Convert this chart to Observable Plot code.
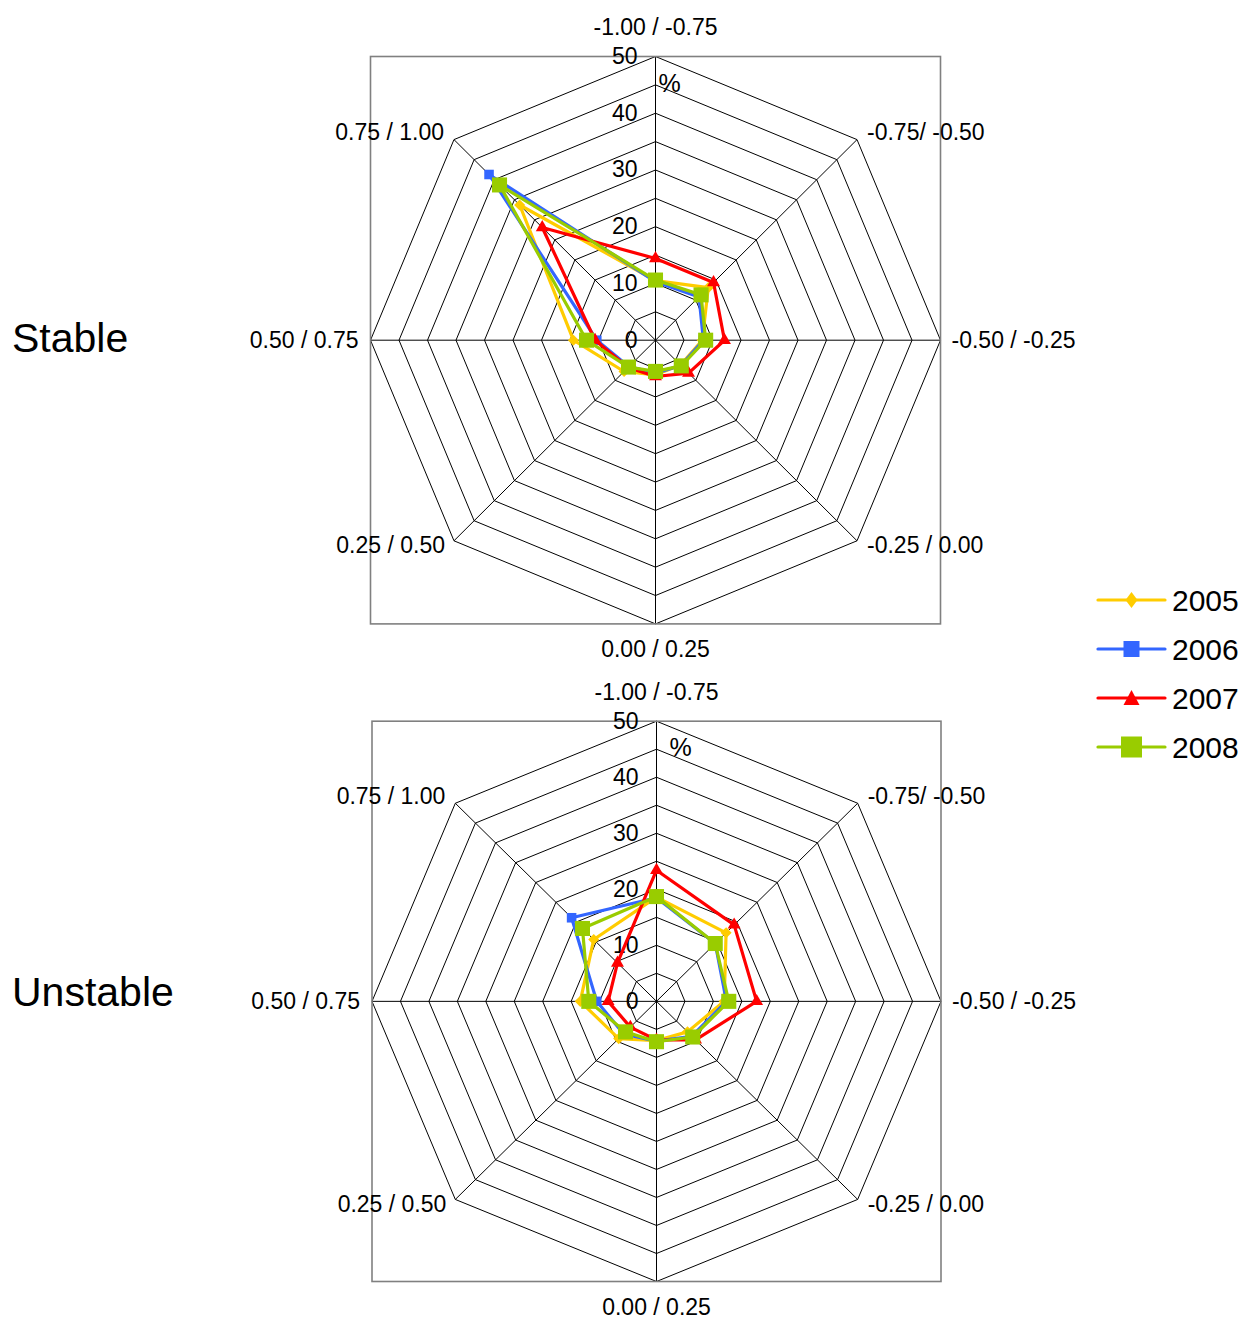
<!DOCTYPE html>
<html><head><meta charset="utf-8">
<script src="https://cdn.jsdelivr.net/npm/d3@7"></script>
<script src="https://cdn.jsdelivr.net/npm/@observablehq/plot@0.6"></script>
<style>
body{margin:0;background:#fff;font-family:"Liberation Sans",Arial,Helvetica,sans-serif;}
#wrap{position:relative;width:1241px;height:1320px;overflow:hidden;background:#fff;}
.panel{position:absolute;left:0;}
.side{position:absolute;left:12px;font-size:41px;line-height:41px;color:#000;white-space:nowrap;}
#legend{position:absolute;left:1090px;top:575px;}
</style></head><body><div id="wrap"></div>
<script>
// ---- data ----
const axisLabels = ["-1.00 / -0.75","-0.75/ -0.50","-0.50 / -0.25","-0.25 / 0.00","0.00 / 0.25","0.25 / 0.50","0.50 / 0.75","0.75 / 1.00"];
const years = ["2005","2006","2007","2008"];
const tickValues = [0,10,20,30,40,50];
const ringValues = [5,10,15,20,25,30,35,40,45,50];
const panelNames = ["Stable","Unstable"];

const stable2005 = [10.5, 13.1, 8.2, 6.2, 6.1, 7.8, 14.4, 33.7];
const stable2006 = [10.3, 10.8, 8.4, 6.3, 5.8, 6.6, 10.3, 41.3];
const stable2007 = [14.4, 14.4, 12.1, 8.2, 6.4, 6.8, 10.6, 28.1];
const stable2008 = [10.6, 11.3, 8.8, 6.4, 5.5, 6.7, 12.1, 38.7];

const unstable2005 = [18.6, 17.3, 11.9, 7.7, 7.0, 9.4, 13.4, 15.6];
const unstable2006 = [18.5, 14.6, 12.3, 8.8, 7.1, 8.2, 10.5, 21.1];
const unstable2007 = [23.4, 19.3, 17.6, 9.7, 6.9, 6.5, 8.5, 9.7];
const unstable2008 = [18.7, 14.6, 12.7, 9.0, 7.2, 7.7, 11.9, 18.4];

// ---- styles ----
const colors = ["#FFCC00","#3366FF","#FF0000","#99CC00"];
const symbols = ["diamond2","square","triangle","square"];
const symR = [5.0, 5.4, 4.8, 8.5];
const FONT = "'Liberation Sans', Arial, Helvetica, sans-serif";
const FS = 23;
const labelPlace = [
  {anchor:"middle", dx:0, dy:-29},
  {anchor:"start", dx:10, dy:-7},
  {anchor:"start", dx:11, dy:0},
  {anchor:"start", dx:10, dy:5},
  {anchor:"middle", dx:0, dy:26},
  {anchor:"end", dx:-9, dy:5},
  {anchor:"end", dx:-12, dy:0},
  {anchor:"end", dx:-10, dy:-7}
];
const panels = [
  {series:[stable2005,stable2006,stable2007,stable2008], top:0, mL:370, mR:301, mT:56, mB:36.6, pctDx:3, sideTop:317.5},
  {series:[unstable2005,unstable2006,unstable2007,unstable2008], top:660, mL:371.5, mR:300.5, mT:60.7, mB:39, pctDx:13, sideTop:972}
];

const N = axisLabels.length;
const ang = i => i * 2 * Math.PI / N;
const px = (v,i) => v * Math.sin(ang(i));
const py = (v,i) => v * Math.cos(ang(i));
const rMax = d3.max(tickValues);

const wrap = document.getElementById("wrap");

panels.forEach((p, pi) => {
  const rings = [];
  ringValues.forEach(r => { for (let i = 0; i <= N; i++) rings.push({r, x: px(r, i % N), y: py(r, i % N)}); });
  const spokes = axisLabels.map((l, i) => ({x: px(rMax, i), y: py(rMax, i)}));
  const marks = [
    Plot.line(rings, {x:"x", y:"y", z:"r", stroke:"#000", strokeWidth:1}),
    Plot.link(spokes, {x1: () => 0, y1: () => 0, x2:"x", y2:"y", stroke:"#000", strokeWidth:1}),
    Plot.frame({stroke:"#808080", strokeWidth:1.6})
  ];
  axisLabels.forEach((lab, i) => {
    const pl = labelPlace[i];
    marks.push(Plot.text([lab], {x: () => px(rMax, i), y: () => py(rMax, i), text: d => d,
      textAnchor: pl.anchor, dx: pl.dx, dy: pl.dy, fontSize: FS, fill:"#000"}));
  });
  marks.push(Plot.text(tickValues, {x: () => 0, y: d => d, text: d => String(d), textAnchor:"end", dx:-18, fontSize:FS, fill:"#000"}));
  marks.push(Plot.text(["%"], {x: () => 0, y: () => rMax, text: d => d, textAnchor:"start", dx:p.pctDx, dy:27, fontSize:25, fill:"#000"}));
  p.series.forEach((vals, k) => {
    const pts = [];
    for (let i = 0; i <= N; i++) { const j = i % N; pts.push({year: years[k], v: vals[j], x: px(vals[j], j), y: py(vals[j], j), closing: i === N}); }
    marks.push(Plot.line(pts, {x:"x", y:"y", stroke: colors[k], strokeWidth:3.2, strokeLinejoin:"round"}));
    marks.push(Plot.dot(pts.filter(d => !d.closing), {x:"x", y:"y", symbol: () => symbols[k], r: symR[k], fill: colors[k], stroke:"none"}));
  });
  const chart = Plot.plot({
    width: 1241, height: 660,
    marginLeft: p.mL, marginRight: p.mR, marginTop: p.mT, marginBottom: p.mB,
    x: {domain: [-rMax, rMax], axis: null},
    y: {domain: [-rMax, rMax], axis: null},
    symbol: {type: "identity"},
    style: {fontFamily: FONT, fontSize: FS + "px", background: "transparent", overflow: "visible", color: "#000"},
    marks
  });
  chart.classList.add("panel");
  chart.style.top = p.top + "px";
  chart.style.maxWidth = "none";
  wrap.appendChild(chart);
  const side = document.createElement("div");
  side.className = "side";
  side.style.top = p.sideTop + "px";
  side.textContent = panelNames[pi];
  wrap.appendChild(side);
});

// ---- legend ----
const lg = d3.select(wrap).append("svg").attr("id","legend").attr("width",151).attr("height",190);
years.forEach((y, k) => {
  const cy = 25 + k * 49;
  const g = lg.append("g").attr("transform", `translate(0,${cy})`);
  g.append("line").attr("x1",8).attr("x2",75).attr("y1",0).attr("y2",0).attr("stroke",colors[k]).attr("stroke-width",3.2).attr("stroke-linecap","round");
  const cx = 41.5;
  if (k === 0) g.append("path").attr("d",`M${cx},-8L${cx+6},0L${cx},8L${cx-6},0Z`).attr("fill",colors[k]);
  else if (k === 1) g.append("rect").attr("x",cx-8).attr("y",-8).attr("width",16).attr("height",16).attr("fill",colors[k]);
  else if (k === 2) g.append("path").attr("d",`M${cx},-8L${cx+8},7L${cx-8},7Z`).attr("fill",colors[k]);
  else g.append("rect").attr("x",cx-10.5).attr("y",-10.5).attr("width",21).attr("height",21).attr("fill",colors[k]);
  g.append("text").attr("x",82).attr("y",0).attr("dy","0.35em").attr("font-size",30).attr("font-family",FONT).attr("fill","#000").text(y);
});
</script></body></html>
